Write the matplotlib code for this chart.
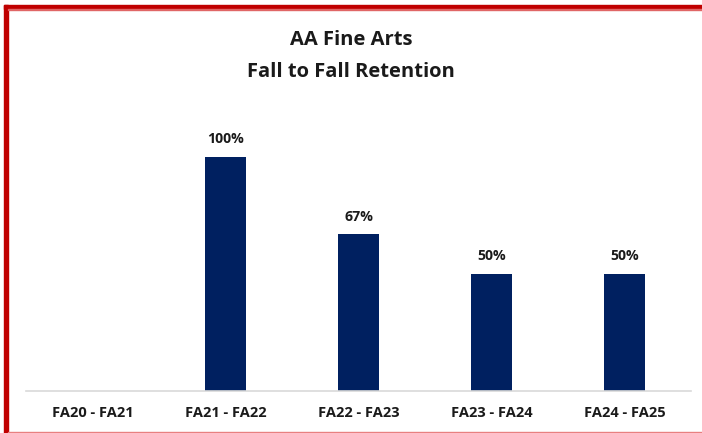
import matplotlib
matplotlib.use('Agg')
import matplotlib.pyplot as plt
from matplotlib.patches import Rectangle

categories = ['FA20 - FA21', 'FA21 - FA22', 'FA22 - FA23', 'FA23 - FA24', 'FA24 - FA25']
retention = [None, 1.00, 0.67, 0.50, 0.50]
labels = ['', '100%', '67%', '50%', '50%']

W, H = 702, 433
plt.rcParams['font.family'] = ['Open Sans', 'DejaVu Sans']

fig = plt.figure(figsize=(W / 100, H / 100), dpi=100)
fig.patch.set_facecolor('white')

# axes in pixel box: x 26..691, baseline y 391, top y 110
ax = fig.add_axes([26 / W, 1 - 391 / H, (691 - 26) / W, (391 - 110) / H])
x = list(range(len(categories)))
vals = [v if v is not None else 0 for v in retention]
ax.bar(x, vals, width=0.31, color='#002060')
for i, (v, lab) in enumerate(zip(retention, labels)):
    if v is not None:
        ax.text(i, v + 0.045, lab, ha='center', va='bottom', fontsize=10.2,
                fontweight='bold', color='#1a1a1a')

ax.set_xlim(-0.5, len(categories) - 0.5)
ax.set_ylim(0, 1.2)
ax.set_yticks([])
ax.set_xticks(x)
ax.set_xticklabels(categories, fontsize=10.5, fontweight='bold', color='#1a1a1a')
ax.tick_params(axis='x', length=0, pad=11)
for s in ['top', 'right', 'left']:
    ax.spines[s].set_visible(False)
ax.spines['bottom'].set_color('#d9d9d9')
ax.spines['bottom'].set_linewidth(1.2)

fig.text(0.5, 1 - 40 / H, 'AA Fine Arts', ha='center', va='center',
         fontsize=14.5, fontweight='bold', color='#1a1a1a')
fig.text(0.5, 1 - 72 / H, 'Fall to Fall Retention', ha='center', va='center',
         fontsize=14.5, fontweight='bold', color='#1a1a1a')

# red frame (left and top), faint bottom line
fig.patches.append(Rectangle((4 / W, 0), 4 / W, 1 - 5 / H, transform=fig.transFigure,
                             color='#c00000', zorder=5))
fig.patches.append(Rectangle((4 / W, 1 - 9 / H), 1 - 4 / W, 4 / H, transform=fig.transFigure,
                             color='#c00000', zorder=5))
fig.patches.append(Rectangle((8 / W, 1 - 10 / H), 1 - 8 / W, 1 / H, transform=fig.transFigure,
                             color='#e06666', zorder=5))
fig.patches.append(Rectangle((8 / W, 1 - 433 / H), 1 - 8 / W, 1.5 / H, transform=fig.transFigure,
                             color='#e88080', zorder=5))

fig.savefig('out.png', dpi=100)
